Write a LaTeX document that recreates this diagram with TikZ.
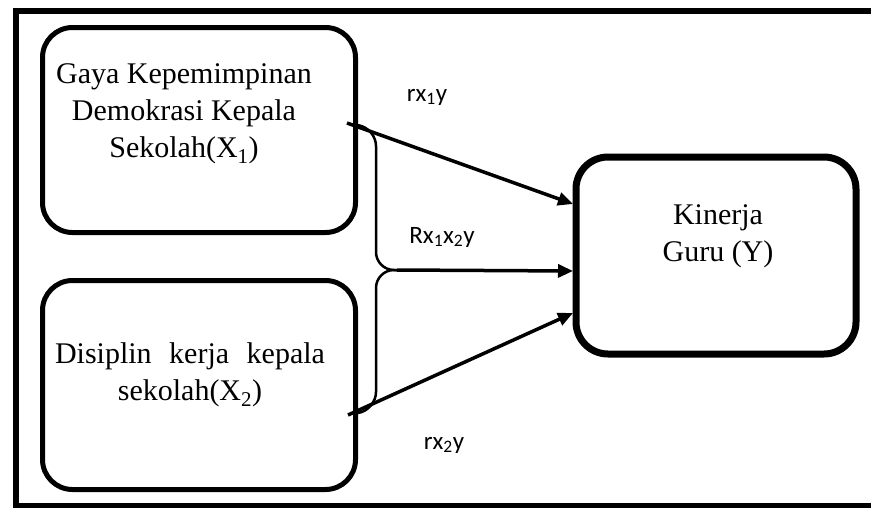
\documentclass[tikz,border=0pt]{standalone}
\usepackage{fontspec}
\setmainfont{Liberation Serif}
\newfontfamily\lblfont{Carlito}
\usetikzlibrary{arrows.meta}
\begin{document}
\begin{tikzpicture}[x=1pt,y=-1pt,
  varbox/.style={draw,line width=5pt,rounded corners=30pt,minimum width=313pt,minimum height=205pt,inner sep=0pt},
  ybox/.style={draw,line width=7pt,rounded corners=32pt,minimum width=280pt,minimum height=197pt,inner sep=0pt},
  boxtext/.style={font=\fontsize{30}{37}\selectfont,align=center,inner sep=0pt},
  lbl/.style={font=\lblfont\fontsize{25}{28}\selectfont,inner sep=0pt},
  conn/.style={line width=3.5pt,-{Triangle[length=15pt,width=13pt]}},
  brace/.style={line width=2.5pt,rounded corners=18pt}]
\useasboundingbox (0,0) rectangle (871,507);
\clip (0,0) rectangle (871,507);
\draw[line width=6pt] (16,10.5) rectangle (890,505.5);
\node[varbox] (b1) at (199,130) {};
\node[varbox,minimum height=209pt] (b2) at (199,385) {};
\node[ybox] (y) at (716,255.5) {};
\node[boxtext] (t1) at (184,114) {Gaya Kepemimpinan\\Demokrasi Kepala\\Sekolah(X\textsubscript{1})};
\node[boxtext,align=left] (t2) at (190,375) {\makebox[270pt][s]{Disiplin kerja kepala}\\\makebox[270pt][c]{sekolah(X\textsubscript{2})}};
\node[boxtext] (t3) at (718,236) {Kinerja\\Guru (Y)};
\coordinate (s1) at (347,123);
\coordinate (s2) at (348,415);
\coordinate (tip) at (397,270);
\coordinate (e1) at (573,204);
\coordinate (e2) at (573,271);
\coordinate (e3) at (573,313);
\draw[conn] (s1) -- (e1);
\draw[conn] (tip) -- (e2);
\draw[conn] (s2) -- (e3);
\draw[brace] (357,125) -- (376,128) -- (376,270) -- (tip);
\draw[brace] (tip) -- (376,270) -- (376,410) -- (358,413);
\node[lbl] (l1) at (427,97) {rx\textsubscript{1}y};
\node[lbl] (l2) at (442,237) {Rx\textsubscript{1}x\textsubscript{2}y};
\node[lbl] (l3) at (444,445) {rx\textsubscript{2}y};
\end{tikzpicture}
\end{document}
